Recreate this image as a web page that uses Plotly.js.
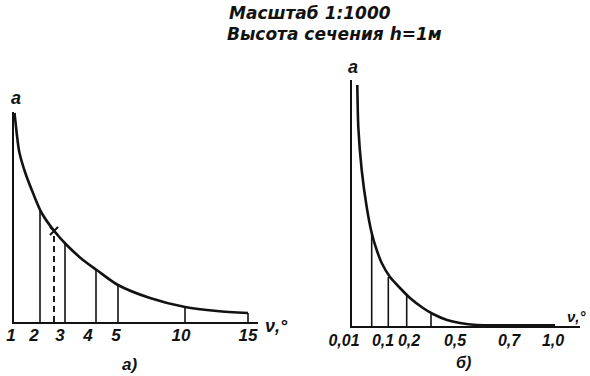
<!DOCTYPE html>
<html><head><meta charset="utf-8">
<script src="https://cdn.plot.ly/plotly-3.0.1.min.js"></script>
<style>html,body{margin:0;padding:0;background:#fff}#chart{width:590px;height:376px}</style>
</head><body><div id="chart"></div>
<script>
// ---- Panel а): a versus slope ν, degrees (abscissa = distance along the drawn axis) ----
const slopeLabelsA = ['1', '2', '3', '4', '5', '10', '15'];
const slopeLabelPosA = [-3, 20, 46, 74, 102, 167, 234];
const curveAx = [0.5, 2.7, 5.3, 11, 19, 27.7, 41, 52.7, 69, 82.7, 104, 136, 171, 203, 234];
const curveAy = [209, 189, 170, 150, 129, 109, 90, 77, 62, 52, 37, 24, 15, 11, 9];
const ordinateAx = [26, 51, 82, 104, 171, 234];
const ordinateAy = [111, 78, 52, 36, 16, 9];
const dashedAx = [40];
const dashedAy = [91];

// ---- Panel б) ----
const slopeLabelsB = ['0,01', '0,1', '0,2', '0,5', '0,7', '1,0'];
const slopeLabelPosB = [-8, 31, 57, 103, 157, 201];
const curveBx = [5.3, 6.3, 9.7, 14.7, 19.7, 24.7, 29.7, 38, 48, 58, 71, 81, 95, 108, 125, 148, 203];
const curveBy = [241, 199, 156, 119, 93, 76, 63, 49, 38, 28, 18, 12, 6, 3, 1, 0.6, 0.6];
const ordinateBx = [19.7, 36.3, 54.7, 79];
const ordinateBy = [93, 49, 31, 12];

const titleLines = ['Масштаб 1:1000', 'Высота сечения h=1м'];

// ---- helpers ----
function stems(xs, ys) {
  const x = [], y = [];
  xs.forEach((v, i) => { x.push(v, v, null); y.push(0, ys[i], null); });
  return {x, y};
}
const INK = '#121212';
const FONT = {family: 'Liberation Sans, sans-serif', style: 'italic', weight: 'bold', color: INK};
const f = (o) => Object.assign({}, FONT, o);

const W = 590, H = 376;
const px = v => v / W;
const py = v => 1 - v / H;

const sA = stems(ordinateAx, ordinateAy);
const sB = stems(ordinateBx, ordinateBy);
const dA = stems(dashedAx, dashedAy);

const traces = [
  {x: curveAx, y: curveAy, mode: 'lines', line: {color: INK, width: 2.6, shape: 'spline', smoothing: 0.8}, xaxis: 'x', yaxis: 'y', hoverinfo: 'skip'},
  {x: sA.x, y: sA.y, mode: 'lines', line: {color: INK, width: 1.6}, xaxis: 'x', yaxis: 'y', hoverinfo: 'skip'},
  {x: dA.x, y: dA.y, mode: 'lines', line: {color: INK, width: 1.9, dash: '6px,4px'}, xaxis: 'x', yaxis: 'y', hoverinfo: 'skip'},
  {x: dashedAx, y: dashedAy, mode: 'markers', marker: {symbol: 'x-thin', size: 8, line: {color: INK, width: 2}}, xaxis: 'x', yaxis: 'y', hoverinfo: 'skip'},
  {x: curveBx, y: curveBy, mode: 'lines', line: {color: INK, width: 2.6, shape: 'spline', smoothing: 0.6}, xaxis: 'x2', yaxis: 'y2', hoverinfo: 'skip'},
  {x: sB.x, y: sB.y, mode: 'lines', line: {color: INK, width: 1.6}, xaxis: 'x2', yaxis: 'y2', hoverinfo: 'skip'},
  // carriers for the tick-label axes
  {x: [null], y: [null], mode: 'lines', xaxis: 'x3', yaxis: 'y', hoverinfo: 'skip'},
  {x: [null], y: [null], mode: 'lines', xaxis: 'x4', yaxis: 'y2', hoverinfo: 'skip'}
];

const lineAxis = {showline: true, linecolor: INK, linewidth: 1.7, showgrid: false, zeroline: false,
                  ticks: '', showticklabels: false, fixedrange: true};
const labelAxis = {showline: false, showgrid: false, zeroline: false, ticks: '', tickmode: 'array', tickangle: 0,
                   fixedrange: true};

// panel geometry (px)
const A = {left: 14, right: 258, bottom: 322, top: 112};
const B = {left: 352, right: 580, bottom: 326, top: 80};
const A_len = 244, B_len = 228;
const A_h = 210, B_h = 246;
const A_lab0 = -6, B_lab0 = -14;

const ann = (text, x, y, size, extra) => Object.assign({text, x: px(x), y: py(y), xref: 'paper', yref: 'paper',
  xanchor: 'center', yanchor: 'middle', showarrow: false, font: f({size})}, extra || {});

const layout = {
  width: W, height: H, margin: {l: 0, r: 0, t: 0, b: 0},
  paper_bgcolor: '#ffffff', plot_bgcolor: 'rgba(0,0,0,0)', showlegend: false,
  xaxis: Object.assign({}, lineAxis, {domain: [px(A.left), px(A.right)], range: [0, A_len], anchor: 'y'}),
  yaxis: Object.assign({}, lineAxis, {domain: [py(A.bottom), py(A.top)], range: [0, A_h], anchor: 'x'}),
  xaxis2: Object.assign({}, lineAxis, {domain: [px(B.left), px(B.right)], range: [0, B_len], anchor: 'y2'}),
  yaxis2: Object.assign({}, lineAxis, {domain: [py(B.bottom), py(B.top)], range: [0, B_h], anchor: 'x2'}),
  xaxis3: Object.assign({}, labelAxis, {domain: [px(A.left + A_lab0), px(A.right)], range: [A_lab0, A_len], anchor: 'y',
                                        tickvals: slopeLabelPosA, ticktext: slopeLabelsA, ticklabelstandoff: 1,
                                        tickfont: f({size: 17})}),
  xaxis4: Object.assign({}, labelAxis, {domain: [px(B.left + B_lab0), px(B.right)], range: [B_lab0, B_len], anchor: 'y2',
                                        tickvals: slopeLabelPosB, ticktext: slopeLabelsB, ticklabelstandoff: 3,
                                        tickfont: f({size: 16})}),
  annotations: [
    ann(titleLines[0], 227, 13, 17, {xanchor: 'left', font: f({size: 17, family: 'DejaVu Sans, sans-serif'})}),
    ann(titleLines[1], 225, 34, 17, {xanchor: 'left', font: f({size: 17, family: 'DejaVu Sans, sans-serif'})}),
    ann('a', 16, 98, 18),
    ann('a', 353, 67, 18),
    ann('ν,°', 263, 326, 18, {xanchor: 'left'}),
    ann('ν,°', 589, 316, 15, {xanchor: 'right'}),
    ann('а)', 129, 364, 17),
    ann('б)', 463, 362, 16)
  ]
};

Plotly.newPlot('chart', traces, layout, {staticPlot: true, displayModeBar: false});
</script>
</body></html>
